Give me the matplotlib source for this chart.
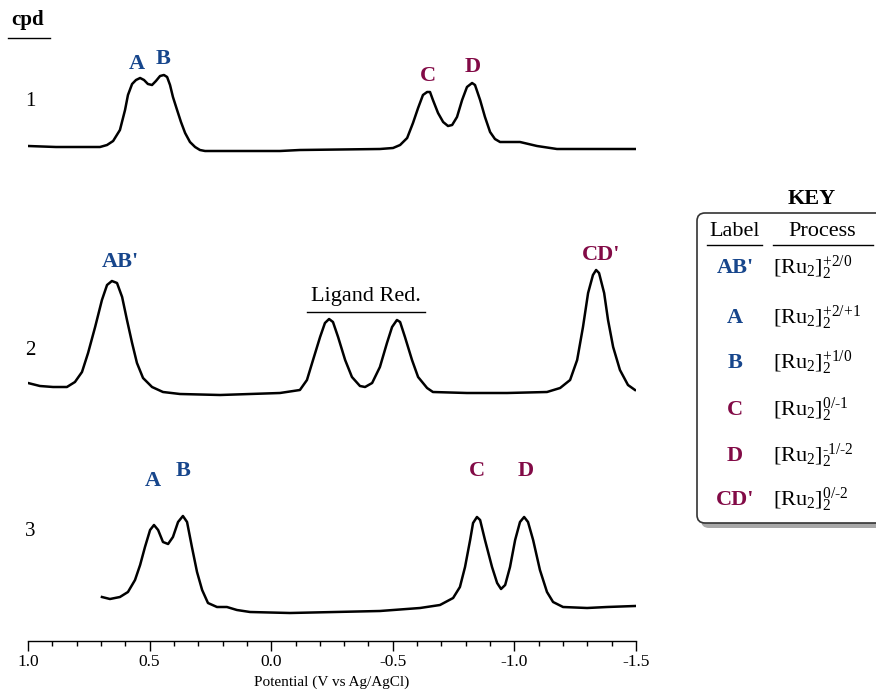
import numpy as np
import matplotlib
matplotlib.use('Agg')
import matplotlib.pyplot as plt
from matplotlib.patches import FancyBboxPatch
from matplotlib.lines import Line2D
from matplotlib.transforms import IdentityTransform
from matplotlib.ticker import MultipleLocator

plt.rcParams['font.family'] = 'Liberation Serif'
plt.rcParams['mathtext.fontset'] = 'custom'
plt.rcParams['mathtext.rm'] = 'Liberation Serif'
plt.rcParams['mathtext.it'] = 'Liberation Serif:italic'
plt.rcParams['mathtext.bf'] = 'Liberation Serif:bold'
plt.rcParams['axes.unicode_minus'] = False

blue = '#17468c'
maroon = '#820a46'

# potential (V vs Ag/AgCl) and current (arbitrary units above the trace baseline)
E1 = [1.000, 0.885, 0.704, 0.675, 0.650, 0.622, 0.601, 0.589, 0.572, 0.556, 0.539, 0.523,
      0.507, 0.490, 0.474, 0.457, 0.441, 0.428, 0.416, 0.404, 0.387, 0.371, 0.354, 0.334,
      0.313, 0.293, 0.272, -0.036, -0.118, -0.447, -0.501, -0.530, -0.559, -0.583, -0.604,
      -0.624, -0.641, -0.653, -0.665, -0.686, -0.707, -0.727, -0.744, -0.764, -0.785, -0.805,
      -0.826, -0.838, -0.859, -0.879, -0.900, -0.920, -0.941, -1.023, -1.093, -1.175, -1.496]
I1 = [5, 4, 4, 6, 10, 21, 41, 56, 67, 71, 73, 71,
      67, 66, 70, 75, 76, 74, 66, 54, 41, 29, 18, 9,
      4, 1, 0, 0, 1, 2, 3, 6, 13, 28, 43,
      56, 59, 59, 51, 38, 29, 25, 26, 34, 51, 64,
      68, 66, 51, 34, 19, 12, 9, 9, 5, 2, 2]

E2 = [1.000, 0.951, 0.897, 0.840, 0.807, 0.778, 0.753, 0.724, 0.696, 0.675, 0.655, 0.634,
      0.613, 0.593, 0.572, 0.552, 0.527, 0.490, 0.445, 0.375, 0.210, -0.036, -0.118, -0.147,
      -0.172, -0.201, -0.221, -0.238, -0.254, -0.275, -0.304, -0.332, -0.365, -0.386, -0.415,
      -0.447, -0.476, -0.497, -0.517, -0.530, -0.550, -0.579, -0.604, -0.641, -0.665, -0.805,
      -0.970, -1.134, -1.188, -1.229, -1.258, -1.282, -1.303, -1.323, -1.336, -1.348, -1.369,
      -1.385, -1.406, -1.434, -1.467, -1.496]
I2 = [12, 9, 8, 8, 13, 23, 42, 68, 95, 110, 114, 112,
      98, 75, 52, 32, 17, 8, 3, 1, 0, 2, 5, 15,
      35, 58, 72, 76, 73, 58, 35, 18, 9, 8, 12,
      28, 52, 68, 75, 73, 58, 35, 18, 7, 3, 2,
      2, 3, 7, 15, 35, 68, 102, 120, 125, 122, 102,
      75, 48, 25, 10, 5]

E3 = [0.696, 0.663, 0.622, 0.589, 0.560, 0.539, 0.519, 0.498, 0.482, 0.465, 0.445, 0.424,
      0.404, 0.383, 0.363, 0.346, 0.326, 0.305, 0.284, 0.260, 0.223, 0.182, 0.141, 0.087,
      -0.077, -0.447, -0.612, -0.694, -0.748, -0.776, -0.797, -0.818, -0.830, -0.846, -0.859,
      -0.879, -0.908, -0.929, -0.945, -0.962, -0.982, -1.003, -1.023, -1.040, -1.056, -1.077,
      -1.105, -1.134, -1.159, -1.200, -1.299, -1.381, -1.496]
I3 = [16, 14, 16, 21, 33, 48, 66, 83, 88, 83, 71, 69,
      76, 91, 97, 91, 66, 41, 23, 10, 6, 6, 3, 1,
      0, 2, 5, 8, 15, 26, 46, 73, 90, 96, 93,
      73, 46, 30, 24, 28, 46, 73, 91, 96, 91, 73,
      43, 21, 11, 6, 5, 6, 7]

traces = [(E1, I1), (E2, I2), (E3, I3)]
offsets = [490, 246, 28]

# peak labels: (text, potential, height, colour)
peak_labels = [("A", 0.552, 577, blue), ("B", 0.445, 582, blue),
               ("C", -0.645, 565, maroon), ("D", -0.830, 574, maroon),
               ("AB'", 0.622, 379, blue), ("CD'", -1.356, 386, maroon),
               ("A", 0.486, 160, blue), ("B", 0.363, 170, blue),
               ("C", -0.846, 170, maroon), ("D", -1.048, 170, maroon)]

key_labels = ["AB'", "A", "B", "C", "D", "CD'"]
key_colors = [blue, blue, blue, maroon, maroon, maroon]
key_process = ["+2/0", "+2/+1", "+1/0", "0/-1", "-1/-2", "0/-2"]

W, H = 876, 690
fig = plt.figure(figsize=(W/100, H/100), dpi=100)

def fx(px):
    return px/W

def fy(py):
    return 1 - py/H

ax = fig.add_axes([fx(28), fy(641), 608/W, 600/H])
for (E, I), off in zip(traces, offsets):
    ax.plot(E, np.array(I) + off, color='black', lw=1.8, solid_joinstyle='round')

for txt, e, y, c in peak_labels:
    ax.text(e, y, txt, color=c, fontsize=16, fontweight='bold', ha='center', va='center')

ax.text(-0.390, 344, 'Ligand Red.', fontsize=16, ha='center', va='center')
ax.plot([-0.147, -0.633], [329, 329], color='black', lw=1.0)

ax.set_xlim(1.0, -1.5)
ax.set_ylim(0, 600)
for s in ['left', 'right', 'top']:
    ax.spines[s].set_visible(False)
ax.spines['bottom'].set_linewidth(1.0)
ax.set_yticks([])
ax.xaxis.set_minor_locator(MultipleLocator(0.1))
ax.set_xticks([1.0, 0.5, 0.0, -0.5, -1.0, -1.5])
ax.set_xticklabels(['1.0', '0.5', '0.0', '-0.5', '-1.0', '-1.5'])
ax.tick_params(axis='x', which='major', length=7, width=1.0, labelsize=12.5, pad=2)
ax.tick_params(axis='x', which='minor', length=3.6, width=1.0)
ax.set_xlabel('Potential (V vs Ag/AgCl)', fontsize=11, labelpad=4)
ax.patch.set_visible(False)

# compound numbers
fig.text(fx(28), fy(20), 'cpd', fontsize=15, fontweight='bold', ha='center', va='center')
fig.add_artist(Line2D([fx(8), fx(50)], [fy(38), fy(38)], color='black', lw=1.0))
for n, py in zip(['1', '2', '3'], [102, 351, 532]):
    fig.text(fx(30), fy(py), n, fontsize=15, ha='center', va='center')

# key box
shadow = FancyBboxPatch((701, H-528), 200, 310, boxstyle='round,pad=0,rounding_size=8',
                        transform=IdentityTransform(), facecolor='#a8a8a8', edgecolor='none', zorder=1)
box = FancyBboxPatch((697, H-523), 200, 310, boxstyle='round,pad=0,rounding_size=8',
                     transform=IdentityTransform(), facecolor='white', edgecolor='#333333', lw=1.2, zorder=2)
fig.add_artist(shadow)
fig.add_artist(box)

fig.text(fx(812), fy(199), 'KEY', fontsize=16, fontweight='bold', ha='center', va='center')
fig.text(fx(735), fy(232), 'Label', fontsize=16, ha='center', va='center', zorder=3)
fig.text(fx(822), fy(232), 'Process', fontsize=16, ha='center', va='center', zorder=3)
fig.add_artist(Line2D([fx(707), fx(762)], [fy(245), fy(245)], color='black', lw=1.0, zorder=3))
fig.add_artist(Line2D([fx(773), fx(873)], [fy(245), fy(245)], color='black', lw=1.0, zorder=3))

for lab, c, proc, py in zip(key_labels, key_colors, key_process, [268, 318, 363, 410, 456, 500]):
    fig.text(fx(735), fy(py), lab, color=c, fontsize=16, fontweight='bold', ha='center', va='center', zorder=3)
    fig.text(fx(773), fy(py), r'$\mathregular{[Ru_2]_2^{\text{%s}}}$' % proc, fontsize=16,
             ha='left', va='center', zorder=3)

fig.savefig('out.png', dpi=100)
